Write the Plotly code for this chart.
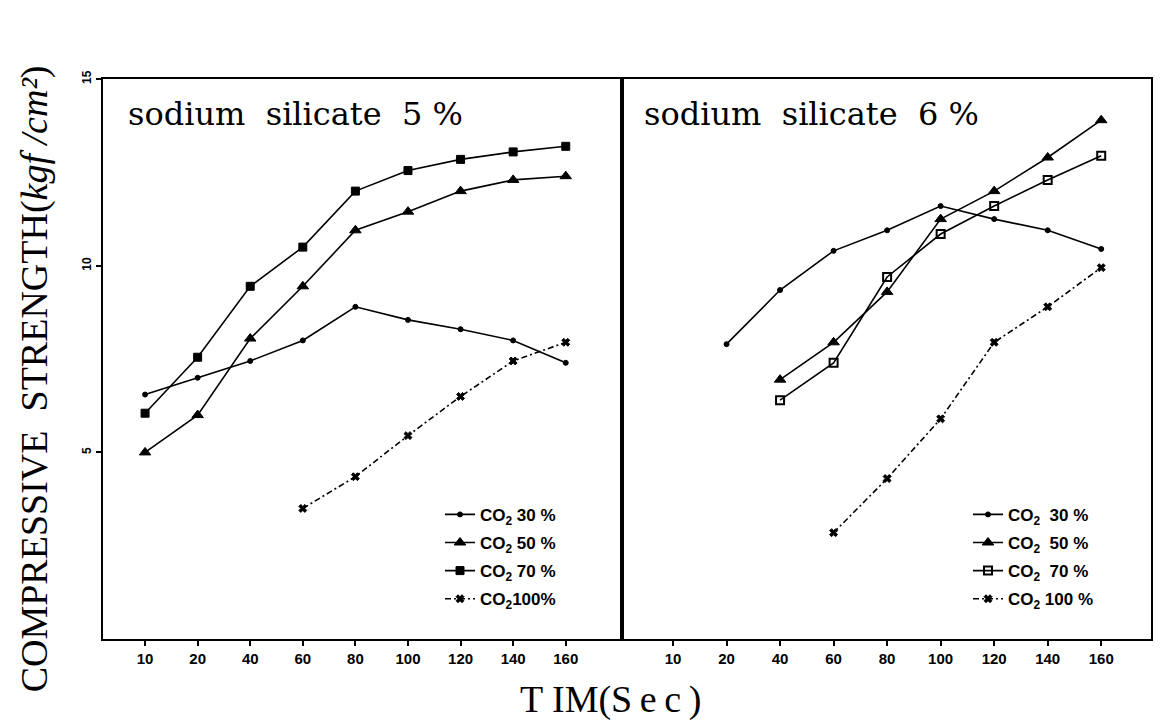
import plotly.graph_objects as go

# Carbonation time (s) and strength (kgf/cm²) readings
time_labels = ["10", "20", "40", "60", "80", "100", "120", "140", "160"]
time_pos = list(range(len(time_labels)))

# sodium silicate 5 %
s5_co2_30 = [6.55, 7.0, 7.45, 8.0, 8.9, 8.55, 8.3, 8.0, 7.4]
s5_co2_50 = [5.0, 6.0, 8.05, 9.45, 10.95, 11.45, 12.0, 12.3, 12.4]
s5_co2_70 = [6.05, 7.55, 9.45, 10.5, 12.0, 12.55, 12.85, 13.05, 13.2]
s5_co2_100 = [None, None, None, 3.5, 4.35, 5.45, 6.5, 7.45, 7.95]

# sodium silicate 6 %
s6_co2_30 = [None, 7.9, 9.35, 10.4, 10.95, 11.6, 11.25, 10.95, 10.45]
s6_co2_50 = [None, None, 6.95, 7.95, 9.3, 11.25, 12.0, 12.9, 13.9]
s6_co2_70 = [None, None, 6.4, 7.4, 9.7, 10.85, 11.6, 12.3, 12.95]
s6_co2_100 = [None, None, None, 2.85, 4.3, 5.9, 7.95, 8.9, 9.95]

series_names = ["CO<sub>2</sub> 30 %", "CO<sub>2</sub> 50 %", "CO<sub>2</sub> 70 %", "CO<sub>2</sub>100%"]
series_names_r = ["CO<sub>2</sub>  30 %", "CO<sub>2</sub>  50 %", "CO<sub>2</sub>  70 %", "CO<sub>2</sub> 100 %"]

W, H = 1164, 724
INK = "black"

styles = [
    dict(symbol="circle", size=5, dash="solid"),
    dict(symbol="triangle-up", size=10, dash="solid"),
    dict(symbol="square", size=8, dash="solid"),
    dict(symbol="x", size=7, dash="6px,3px,2px,3px"),
]

fig = go.Figure()


def add_panel(values, names, xa, ya, legend_id, open70=False):
    for i, (vals, nm, st) in enumerate(zip(values, names, styles)):
        sym = st["symbol"]
        mline = dict(color=INK, width=1)
        if open70 and i == 2:
            sym = "square-open"
            mline = dict(color=INK, width=2)
        fig.add_trace(go.Scatter(
            x=time_pos, y=vals, mode="lines+markers", name=nm,
            xaxis=xa, yaxis=ya, legend=legend_id, legendgroup=f"{legend_id}{i}",
            connectgaps=False,
            line=dict(color=INK, width=1.6, dash=st["dash"]),
            marker=dict(symbol=sym, size=st["size"], color=INK, line=mline),
        ))


add_panel([s5_co2_30, s5_co2_50, s5_co2_70, s5_co2_100], series_names, "x", "y", "legend")
add_panel([s6_co2_30, s6_co2_50, s6_co2_70, s6_co2_100], series_names_r, "x2", "y2", "legend2", open70=True)

# pixel geometry of the two framed panels
left_x0, left_x1, right_x1 = 103, 622, 1151
top_y, bot_y = 71, 638


def px(x):
    return x / W


def py(y):
    return 1 - y / H


tickfont = dict(family="Liberation Sans", size=15, color=INK, weight="bold")
axis_common = dict(
    showgrid=False, zeroline=False, showline=True, linecolor=INK, linewidth=2,
    mirror=True, ticks="outside", tickcolor=INK, ticklen=5, tickwidth=1.5,
)

legend_font = dict(family="Liberation Sans", size=17, color=INK, weight="bold")

fig.update_layout(
    width=W, height=H, margin=dict(l=0, r=0, t=0, b=0),
    paper_bgcolor="white", plot_bgcolor="white",
    showlegend=True,
    xaxis=dict(domain=[px(left_x0), px(left_x1)], range=[-0.8, 9.07],
               tickvals=time_pos, ticktext=time_labels, tickfont=tickfont,
               anchor="y", **axis_common),
    yaxis=dict(domain=[py(bot_y), py(top_y)], range=[0, 15],
               tickvals=[5, 10, 15], tickangle=-90,
               tickfont=dict(family="Liberation Sans", size=12, color=INK, weight="bold"),
               anchor="x", **axis_common),
    xaxis2=dict(domain=[px(left_x1), px(right_x1)], range=[-0.953, 8.93],
                tickvals=time_pos, ticktext=time_labels, tickfont=tickfont,
                anchor="y2", **axis_common),
    yaxis2=dict(domain=[py(bot_y), py(top_y)], range=[0, 15],
                showticklabels=False, anchor="x2",
                **{**axis_common, "ticks": ""}),
    legend=dict(x=px(440), y=py(494), xanchor="left", yanchor="top",
                bgcolor="rgba(0,0,0,0)", tracegroupgap=3, traceorder="grouped",
                font=legend_font),
    legend2=dict(x=px(968), y=py(494), xanchor="left", yanchor="top",
                 bgcolor="rgba(0,0,0,0)", tracegroupgap=3, traceorder="grouped",
                 font=legend_font),
)

title_font = dict(family="DejaVu Serif", size=32, color=INK)
fig.add_annotation(text="sodium  silicate  5 %", x=px(126), y=py(106), xref="paper", yref="paper",
                   xanchor="left", yanchor="middle", showarrow=False, font=title_font)
fig.add_annotation(text="sodium  silicate  6 %", x=px(642), y=py(106), xref="paper", yref="paper",
                   xanchor="left", yanchor="middle", showarrow=False, font=title_font)

fig.add_annotation(text="COMPRESSIVE  STRENGTH(<i>kgf /cm²</i>)", textangle=-90,
                   x=px(34), y=py(375), xref="paper", yref="paper",
                   xanchor="center", yanchor="middle", showarrow=False,
                   font=dict(family="Liberation Serif", size=38, color=INK))
fig.add_annotation(text="T IM(S\u2009e\u2009c\u2009)", x=px(610), y=py(699), xref="paper", yref="paper",
                   xanchor="center", yanchor="middle", showarrow=False,
                   font=dict(family="Liberation Serif", size=38, color=INK))

fig.write_html("out.html")
